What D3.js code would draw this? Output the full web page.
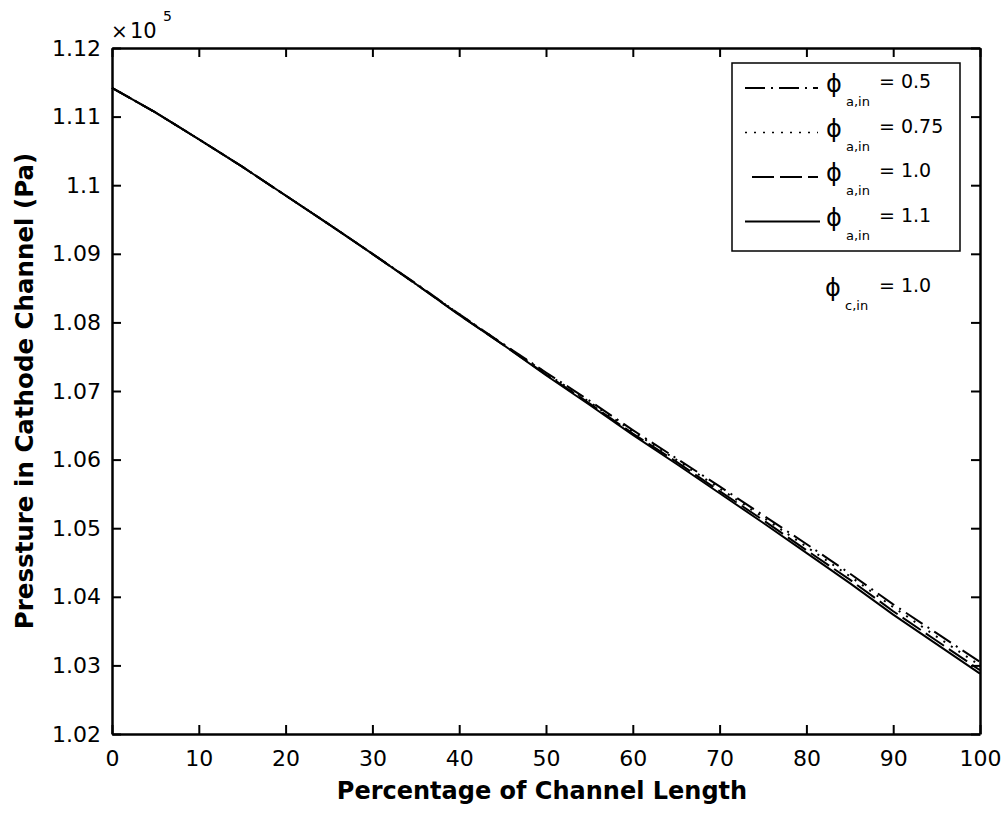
<!DOCTYPE html>
<html><head><meta charset="utf-8">
<script src="https://cdn.jsdelivr.net/npm/d3@7"></script>
<style>body{margin:0;background:#fff}svg{display:block}text{font-family:"DejaVu Sans",sans-serif;fill:#000}</style>
</head><body><svg id="c" width="1007" height="813"></svg>
<script>
const xPct = [0,5,10,15,20,25,30,35,40,45,50,55,60,65,70,75,80,85,90,95,100];
const p05  = [1.1142,1.1106,1.1067,1.1027,1.0985,1.0943,1.0900,1.0857,1.0812,1.0769,1.0727,1.0686,1.0643,1.0602,1.0561,1.0519,1.0477,1.0434,1.0389,1.0347,1.0305];
const p075 = [1.1142,1.1106,1.1067,1.1027,1.0985,1.0943,1.0900,1.0856,1.0812,1.0769,1.0726,1.0684,1.0641,1.0600,1.0558,1.0516,1.0473,1.0430,1.0385,1.0342,1.0300];
const p10  = [1.1142,1.1106,1.1067,1.1027,1.0985,1.0943,1.0900,1.0856,1.0811,1.0768,1.0724,1.0682,1.0638,1.0597,1.0554,1.0512,1.0468,1.0425,1.0379,1.0336,1.0293];
const p11  = [1.1142,1.1106,1.1067,1.1027,1.0985,1.0943,1.0900,1.0856,1.0811,1.0768,1.0723,1.0680,1.0636,1.0594,1.0551,1.0508,1.0464,1.0420,1.0374,1.0331,1.0288];
const xTicks = [0,10,20,30,40,50,60,70,80,90,100];
const yTicks = [1.02,1.03,1.04,1.05,1.06,1.07,1.08,1.09,1.10,1.11,1.12];
const yTickLabels = ["1.02","1.03","1.04","1.05","1.06","1.07","1.08","1.09","1.1","1.11","1.12"];
const seriesNames = ["0.5","0.75","1.0","1.1"];
const seriesData = [p05,p075,p10,p11];
const dashes = ["20,6,2,6","2,7","22,6",null];

const svg = d3.select("#c");
const L=112,R=980,T=48,B=734;
const x = d3.scaleLinear().domain([0,100]).range([L,R]);
const y = d3.scaleLinear().domain([1.02,1.12]).range([B,T]);

// data lines
const line = d3.line().x((d,i)=>x(xPct[i])).y(d=>y(d));
seriesData.forEach((s,k)=>{
  svg.append("path").datum(s).attr("d",line).attr("fill","none").attr("stroke","#000")
    .attr("stroke-width",2).attr("stroke-dasharray",dashes[k]);
});

// axes with inward ticks on all sides
const tk=9;
const gB = svg.append("g").attr("transform",`translate(0,${B})`)
  .call(d3.axisBottom(x).tickValues(xTicks).tickSizeInner(-tk).tickSizeOuter(0).tickPadding(16).tickFormat(d3.format("d")));
const gT = svg.append("g").attr("transform",`translate(0,${T})`)
  .call(d3.axisTop(x).tickValues(xTicks).tickSizeInner(-tk).tickSizeOuter(0).tickFormat(""));
const gL = svg.append("g").attr("transform",`translate(${L},0)`)
  .call(d3.axisLeft(y).tickValues(yTicks).tickSizeInner(-tk).tickSizeOuter(0).tickPadding(11).tickFormat((d,i)=>yTickLabels[i]));
const gR = svg.append("g").attr("transform",`translate(${R},0)`)
  .call(d3.axisRight(y).tickValues(yTicks).tickSizeInner(-tk).tickSizeOuter(0).tickFormat(""));
[gB,gT,gL,gR].forEach(g=>{
  g.selectAll(".domain").attr("stroke","#000").attr("stroke-width",2.5);
  g.selectAll(".tick line").attr("stroke","#000").attr("stroke-width",2);
  g.selectAll("text").style("font-family","'DejaVu Sans',sans-serif").style("font-size","22px").attr("fill","#000");
});

// exponent
svg.append("text").attr("x",111).attr("y",38).style("font-size","20px").text("×");
svg.append("text").attr("x",130).attr("y",38).style("font-size","21px").text("10");
svg.append("text").attr("x",163).attr("y",21).style("font-size","14px").text("5");

// axis labels
svg.append("text").attr("x",(L+R)/2-4).attr("y",799).attr("text-anchor","middle")
  .style("font-size","24px").style("font-weight","bold").text("Percentage of Channel Length");
svg.append("text").attr("transform",`translate(33,${(T+B)/2}) rotate(-90)`).attr("text-anchor","middle")
  .style("font-size","24.5px").style("font-weight","bold").text("Pressture in Cathode Channel (Pa)");

// legend
svg.append("rect").attr("x",732).attr("y",63).attr("width",228).attr("height",188)
  .attr("fill","#fff").attr("stroke","#000").attr("stroke-width",1.5);
const sx0=[745,745,752,745], sx1=[818,818,818,820];
seriesNames.forEach((n,k)=>{
  const b = 88 + 44.5*k;
  svg.append("line").attr("x1",sx0[k]).attr("x2",sx1[k]).attr("y1",b).attr("y2",b)
    .attr("stroke","#000").attr("stroke-width",k===1?1.5:2).attr("stroke-dasharray",dashes[k]);
  svg.append("text").attr("x",826).attr("y",b+4).style("font-size","24px").text("ϕ");
  svg.append("text").attr("x",846).attr("y",b+18).style("font-size","13px").text("a,in");
  svg.append("text").attr("x",879).attr("y",b).style("font-size","19px").text("= "+n);
});
svg.append("text").attr("x",825).attr("y",296).style("font-size","24px").text("ϕ");
svg.append("text").attr("x",845).attr("y",310).style("font-size","13px").text("c,in");
svg.append("text").attr("x",879).attr("y",292).style("font-size","19px").text("= 1.0");
</script></body></html>
